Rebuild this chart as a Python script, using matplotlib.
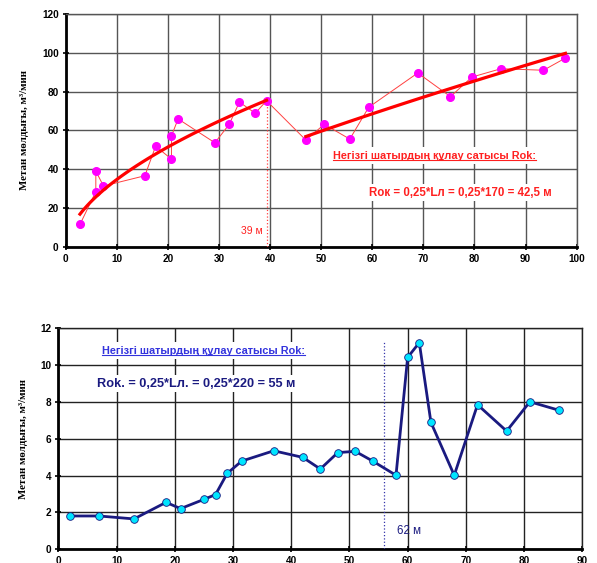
import numpy as np
import matplotlib
matplotlib.use("Agg")
import matplotlib.pyplot as plt

# ---- top chart data ----
top_x = [2.8, 5.9, 5.9, 7.4, 15.5, 17.6, 20.7, 20.7, 22.0, 29.2, 32.0, 34.0, 37.1, 39.3,
         47.0, 50.6, 55.6, 59.3, 68.9, 75.3, 79.5, 85.2, 93.5, 97.8]
top_y = [11.5, 28.4, 39.0, 31.3, 36.6, 51.8, 45.2, 57.1, 65.9, 53.6, 63.1, 74.6, 68.8, 75.3,
         55.0, 63.1, 55.5, 71.9, 89.6, 77.4, 87.5, 91.8, 91.0, 97.3]
seg1_end = 14  # first 14 points belong to first trend segment
top_xticks = list(range(0, 101, 10))
top_yticks = list(range(0, 121, 20))
top_mark_x = 39.3
top_mark_y = 75.3
top_mark_label = "39 м"
top_title = "Негізгі шатырдың құлау сатысы Rok:"
top_formula = "Rок = 0,25*Lл = 0,25*170 = 42,5 м"

# ---- bottom chart data ----
bot_x = [2, 7, 13, 18.5, 21, 25, 27, 29, 31.5, 37, 42, 45, 48, 51, 54, 58, 60, 62, 64, 68, 72, 77, 81, 86]
bot_y = [1.81, 1.81, 1.65, 2.55, 2.21, 2.71, 2.97, 4.12, 4.79, 5.35, 4.99, 4.36, 5.25, 5.32, 4.79,
         4.02, 10.42, 11.22, 6.89, 4.02, 7.85, 6.42, 8.01, 7.55]
bot_xticks = list(range(0, 91, 10))
bot_yticks = list(range(0, 13, 2))
bot_mark_x = 56
bot_mark_ytop = 11.3
bot_mark_label = "62 м"
bot_title = "Негізгі шатырдың құлау сатысы Rok:"
bot_formula = "Rok. = 0,25*Lл. = 0,25*220 = 55 м"

ylabel = "Метан мөлдығы, м³/мин"

fig = plt.figure(figsize=(5.97, 5.63), dpi=100)

tick_font = dict(family="Liberation Sans", weight="bold", size=7.2)


def style_axes(ax, xticks, yticks, gridcolor):
    ax.set_xticks(xticks)
    ax.set_yticks(yticks)
    ax.set_xlim(xticks[0], xticks[-1])
    ax.set_ylim(yticks[0], yticks[-1])
    ax.grid(True, color=gridcolor, lw=1.0, zorder=0)
    ax.set_axisbelow(True)
    for s in ["top", "right"]:
        ax.spines[s].set_color(gridcolor)
        ax.spines[s].set_linewidth(1.0)
    for s in ["left", "bottom"]:
        ax.spines[s].set_color("black")
        ax.spines[s].set_linewidth(2.0)
    ax.tick_params(direction="inout", length=4, width=1.2, pad=3)
    for lab in ax.get_xticklabels() + ax.get_yticklabels():
        lab.set_fontproperties(matplotlib.font_manager.FontProperties(**tick_font))
    ax.set_ylabel(ylabel, family="Liberation Serif", weight="bold", fontsize=7.8, labelpad=9)


def underlined_text(ax, x, y, s, color, **kw):
    t = ax.text(x, y, s, color=color, **kw)
    fig.canvas.draw()
    bb = t.get_window_extent().transformed(ax.transData.inverted())
    ax.plot([bb.x0, bb.x1], [bb.y0 + (bb.y1 - bb.y0) * 0.05] * 2, color=color, lw=0.8, zorder=7)
    return t


# ---------- top ----------
ax1 = fig.add_axes([0.110, 0.5618, 0.856, 0.4133])
style_axes(ax1, top_xticks, top_yticks, "#555555")
ax1.plot(top_x, top_y, color="#ff4040", lw=0.7, zorder=3)
ax1.plot(top_x, top_y, ls="none", marker="o", ms=5.5, mfc="#ff00ff", mec="#ff00ff", zorder=4)

# power trend lines fitted in log space (as spreadsheet power trendlines)
for xs, ys in [(top_x[:seg1_end], top_y[:seg1_end]), (top_x[seg1_end:], top_y[seg1_end:])]:
    xs = np.array(xs); ys = np.array(ys)
    b, lna = np.polyfit(np.log(xs), np.log(ys), 1)
    xx = np.linspace(xs.min(), xs.max(), 100)
    ax1.plot(xx, np.exp(lna) * xx ** b, color="#ff0000", lw=2.3, zorder=5)

ax1.plot([top_mark_x, top_mark_x], [0, top_mark_y], color="#ff4040", lw=0.9, ls=":", zorder=3)
ax1.text(top_mark_x - 0.8, 8, top_mark_label, color="#ff2020", fontsize=7.5,
         family="Liberation Sans", ha="right", va="center")
ax1.text(77.2, 27.9, top_formula, color="#ff2020", fontsize=8.3, family="Liberation Sans",
         weight="bold", ha="center", va="center",
         bbox=dict(facecolor="white", edgecolor="none", pad=2), zorder=6)

# ---------- bottom ----------
ax2 = fig.add_axes([0.0977, 0.0243, 0.8777, 0.3926])
style_axes(ax2, bot_xticks, bot_yticks, "#222222")
ax2.plot(bot_x, bot_y, color="#1a1a80", lw=2.0, zorder=3)
ax2.plot(bot_x, bot_y, ls="none", marker="o", ms=5.5, mfc="#00e5ff", mec="#1a1a80", mew=0.6, zorder=4)
ax2.plot([bot_mark_x, bot_mark_x], [0, bot_mark_ytop], color="#3333aa", lw=0.9, ls=":", zorder=3)
ax2.text(58.1, 1.0, bot_mark_label, color="#1a1a80", fontsize=8.3, family="Liberation Sans",
         ha="left", va="center")
ax2.text(23.7, 9.0, bot_formula, color="#1a1a80", fontsize=9.2, family="Liberation Sans",
         weight="bold", ha="center", va="center",
         bbox=dict(facecolor="white", edgecolor="none", pad=2), zorder=6)

underlined_text(ax1, 72.2, 46.8, top_title, "#ff2020", fontsize=7.8, family="Liberation Sans",
                weight="bold", ha="center", va="center",
                bbox=dict(facecolor="white", edgecolor="none", pad=2.5), zorder=6)
underlined_text(ax2, 24.9, 10.78, bot_title, "#3333dd", fontsize=7.8, family="Liberation Sans",
                weight="bold", ha="center", va="center",
                bbox=dict(facecolor="white", edgecolor="none", pad=2.5), zorder=6)

fig.savefig("out.png", dpi=100)
